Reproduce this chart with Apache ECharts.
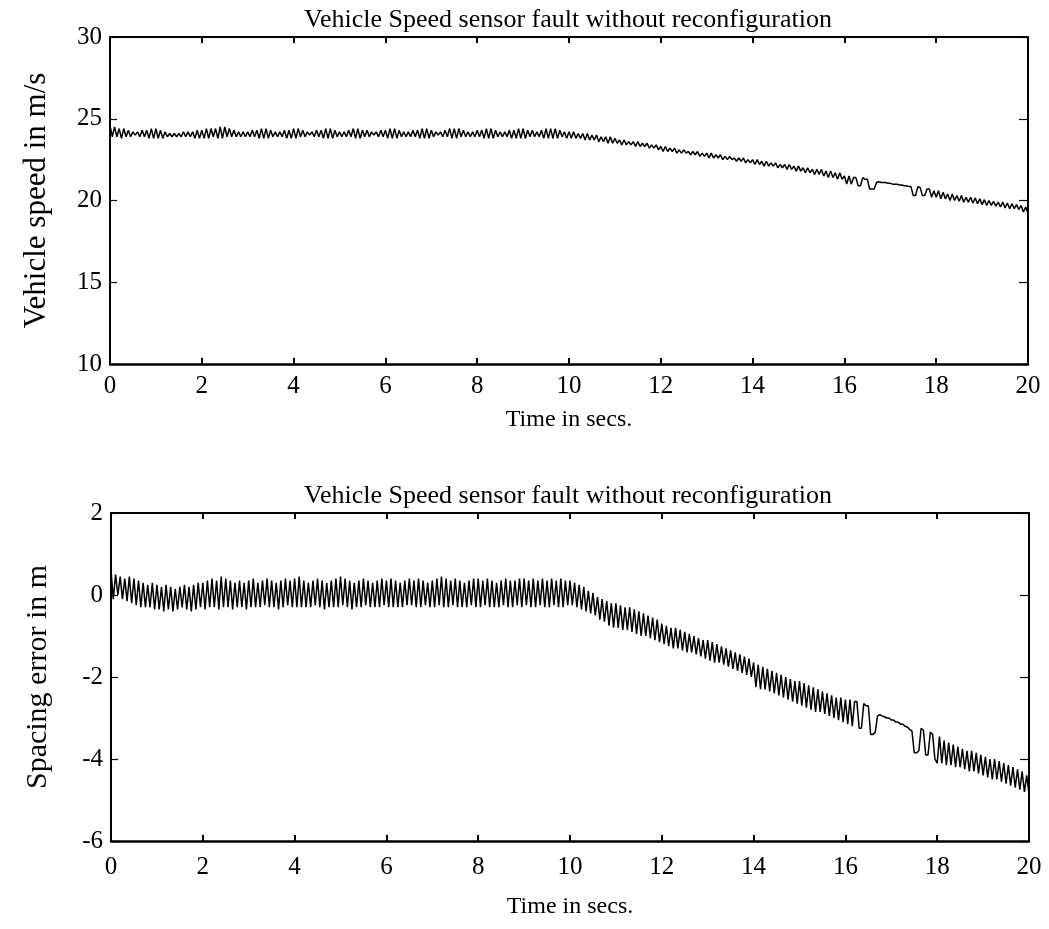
<!DOCTYPE html>
<html>
<head>
<meta charset="utf-8">
<script src="https://cdn.jsdelivr.net/npm/echarts@6/dist/echarts.min.js"></script>
<style>
html,body{margin:0;padding:0;background:#fff;}
#chart{width:1049px;height:929px;}
</style>
</head>
<body>
<div id="chart"></div>
<script>
// ---- data ----
const titleText = 'Vehicle Speed sensor fault without reconfiguration';
const xName = 'Time in secs.';
const yNameTop = 'Vehicle speed in m/s';
const yNameBottom = 'Spacing error in m';
const timeStep = 0.05; // seconds between samples, starting at t = 0
const xRange = [0, 20, 2];
const yRangeTop = [10, 30, 5];
const yRangeBottom = [-6, 2, 2];

// vehicle speed (m/s), one row per second
const speed = [
24.6,23.9,24.5,23.9,24.4,23.8,24.4,23.9,24.3,23.9,24.2,24.0,24.2,23.9,24.3,23.9,24.3,23.8,24.4,23.8,
24.4,23.8,24.3,23.8,24.2,23.9,24.1,23.9,24.1,23.9,24.1,23.9,24.2,23.9,24.2,23.9,24.2,23.8,24.3,23.8,
24.3,23.8,24.4,23.8,24.4,23.9,24.4,23.8,24.5,23.8,24.5,23.9,24.4,23.9,24.3,23.9,24.2,23.9,24.2,23.9,
24.2,23.9,24.3,23.9,24.3,23.8,24.4,23.8,24.4,23.8,24.3,23.9,24.2,23.9,24.2,23.9,24.3,23.8,24.3,23.8,
24.4,23.8,24.4,23.9,24.3,23.9,24.2,24.0,24.2,23.9,24.3,23.9,24.3,23.8,24.4,23.8,24.4,23.8,24.3,23.9,
24.2,23.9,24.2,23.9,24.3,23.9,24.4,23.8,24.4,23.8,24.3,23.9,24.3,23.9,24.2,24.0,24.2,23.9,24.3,23.9,
24.3,23.8,24.4,23.8,24.4,23.8,24.3,23.9,24.2,23.9,24.2,23.9,24.3,23.9,24.3,23.8,24.4,23.8,24.4,23.8,
24.3,23.9,24.2,24.0,24.2,23.9,24.3,23.9,24.4,23.8,24.4,23.8,24.4,23.9,24.3,23.9,24.2,23.9,24.2,23.9,
24.3,23.9,24.3,23.8,24.4,23.8,24.4,23.8,24.3,23.9,24.2,23.9,24.2,23.9,24.3,23.8,24.3,23.8,24.4,23.8,
24.4,23.8,24.3,23.9,24.3,23.9,24.2,23.9,24.3,23.8,24.4,23.8,24.4,23.8,24.4,23.8,24.3,23.9,24.2,23.8,
24.2,23.8,24.2,23.8,24.1,23.8,24.1,23.7,24.1,23.7,24.0,23.7,24.0,23.6,23.9,23.6,23.9,23.5,23.9,23.5,
23.8,23.5,23.7,23.4,23.7,23.4,23.6,23.4,23.6,23.3,23.6,23.3,23.5,23.3,23.5,23.2,23.4,23.2,23.4,23.1,
23.3,23.0,23.3,23.0,23.2,23.0,23.2,22.9,23.1,22.9,23.1,22.9,23.0,22.8,23.0,22.8,23.0,22.7,22.9,22.7,
22.9,22.6,22.9,22.6,22.8,22.6,22.8,22.5,22.7,22.5,22.7,22.5,22.6,22.4,22.6,22.4,22.6,22.3,22.5,22.3,
22.5,22.2,22.5,22.2,22.4,22.1,22.4,22.1,22.3,22.1,22.3,22.0,22.2,22.0,22.2,21.9,22.2,21.9,22.1,21.8,
22.1,21.8,22.0,21.7,22.0,21.7,21.9,21.6,21.9,21.6,21.9,21.5,21.8,21.4,21.8,21.4,21.7,21.3,21.7,21.3,
21.5,21.0,21.5,21.0,21.4,21.4,20.9,20.9,21.4,21.3,21.3,20.7,20.7,20.7,21.1,21.15,21.1,21.1,21.1,21.05,
21.05,21.0,21.0,21.0,20.95,20.95,20.9,20.9,20.85,20.85,20.3,20.3,20.85,20.8,20.3,20.3,20.7,20.7,20.2,20.6,
20.2,20.6,20.1,20.5,20.1,20.4,20.0,20.4,20.0,20.3,19.95,20.3,19.9,20.2,19.9,20.2,19.85,20.15,19.8,20.1,
19.75,20.05,19.7,20.0,19.7,19.95,19.65,19.9,19.6,19.9,19.55,19.85,19.5,19.8,19.5,19.75,19.45,19.7,19.3,19.6,
19.2
];

// spacing error (m), one row per second
const spacing = [
0.6,-0.1,0.5,0.0,0.45,-0.1,0.4,-0.15,0.45,-0.2,0.4,-0.25,0.35,-0.3,0.3,-0.3,0.25,-0.3,0.3,-0.35,
0.25,-0.35,0.2,-0.4,0.25,-0.35,0.2,-0.4,0.15,-0.35,0.2,-0.3,0.25,-0.35,0.2,-0.4,0.25,-0.35,0.3,-0.3,
0.3,-0.35,0.35,-0.3,0.4,-0.3,0.35,-0.35,0.45,-0.3,0.4,-0.3,0.35,-0.35,0.3,-0.3,0.35,-0.3,0.3,-0.35,
0.35,-0.3,0.4,-0.3,0.3,-0.3,0.35,-0.25,0.4,-0.3,0.35,-0.3,0.3,-0.35,0.35,-0.3,0.4,-0.25,0.35,-0.3,
0.4,-0.3,0.45,-0.3,0.35,-0.3,0.3,-0.3,0.35,-0.25,0.4,-0.3,0.35,-0.35,0.3,-0.3,0.35,-0.3,0.4,-0.3,
0.45,-0.25,0.4,-0.3,0.35,-0.35,0.3,-0.3,0.35,-0.3,0.4,-0.25,0.35,-0.3,0.3,-0.3,0.35,-0.3,0.4,-0.25,
0.35,-0.3,0.4,-0.3,0.35,-0.3,0.3,-0.3,0.35,-0.25,0.4,-0.25,0.35,-0.3,0.4,-0.3,0.35,-0.25,0.3,-0.3,
0.35,-0.3,0.4,-0.25,0.45,-0.3,0.4,-0.3,0.35,-0.25,0.4,-0.3,0.35,-0.3,0.3,-0.3,0.35,-0.25,0.4,-0.3,
0.4,-0.3,0.35,-0.25,0.4,-0.3,0.35,-0.3,0.3,-0.3,0.35,-0.25,0.4,-0.3,0.35,-0.3,0.35,-0.25,0.4,-0.3,
0.4,-0.25,0.35,-0.3,0.4,-0.3,0.35,-0.25,0.4,-0.3,0.35,-0.3,0.4,-0.25,0.35,-0.3,0.4,-0.3,0.35,-0.25,
0.35,-0.25,0.3,-0.3,0.25,-0.35,0.2,-0.4,0.1,-0.45,0.05,-0.5,-0.05,-0.6,-0.1,-0.65,-0.15,-0.75,-0.2,-0.8,
-0.2,-0.8,-0.25,-0.85,-0.3,-0.85,-0.3,-0.9,-0.35,-0.95,-0.4,-1.0,-0.45,-1.0,-0.5,-1.05,-0.55,-1.1,-0.6,-1.15,
-0.7,-1.2,-0.75,-1.25,-0.8,-1.3,-0.8,-1.3,-0.85,-1.35,-0.9,-1.4,-0.95,-1.4,-1.0,-1.45,-1.05,-1.5,-1.1,-1.55,
-1.1,-1.6,-1.15,-1.65,-1.2,-1.65,-1.25,-1.7,-1.3,-1.75,-1.35,-1.8,-1.4,-1.85,-1.45,-1.9,-1.5,-1.95,-1.55,-2.0,
-1.65,-2.25,-1.7,-2.3,-1.75,-2.3,-1.8,-2.35,-1.85,-2.4,-1.9,-2.45,-1.95,-2.5,-2.0,-2.55,-2.05,-2.6,-2.1,-2.65,
-2.1,-2.7,-2.15,-2.75,-2.2,-2.8,-2.25,-2.85,-2.3,-2.85,-2.35,-2.9,-2.4,-2.95,-2.45,-3.0,-2.5,-3.05,-2.5,-3.1,
-2.55,-3.15,-2.55,-3.2,-2.6,-2.6,-3.25,-3.25,-2.65,-2.7,-2.7,-3.4,-3.4,-3.35,-2.95,-2.92,-2.95,-2.97,-3.0,-3.0,
-3.05,-3.05,-3.1,-3.1,-3.15,-3.15,-3.2,-3.22,-3.28,-3.32,-3.85,-3.85,-3.8,-3.25,-3.3,-3.9,-3.9,-3.35,-3.4,-4.0,
-4.1,-3.45,-4.1,-3.55,-4.15,-3.6,-4.15,-3.65,-4.2,-3.7,-4.2,-3.75,-4.25,-3.8,-4.3,-3.8,-4.3,-3.85,-4.35,-3.9,
-4.4,-3.95,-4.45,-4.0,-4.5,-4.0,-4.5,-4.05,-4.55,-4.1,-4.6,-4.15,-4.65,-4.2,-4.7,-4.25,-4.75,-4.3,-4.8,-4.4,
-4.85
];

// ---- chart ----
const serif = '"Liberation Serif", "Times New Roman", serif';
function pairs(arr){ return arr.map((v,i)=>[+(i*timeStep).toFixed(2), v]); }

const chart = echarts.init(document.getElementById('chart'), null, {renderer:'canvas'});

function xAxes(gi, nameGap, labelMargin){
  const base = {gridIndex:gi, type:'value', min:xRange[0], max:xRange[1], interval:xRange[2], splitLine:{show:false}};
  return [
    Object.assign({}, base, {
      position:'bottom',
      axisLine:{onZero:false, lineStyle:{color:'#000', width:2.5}},
      axisTick:{inside:true, length:6, lineStyle:{color:'#000', width:2}},
      axisLabel:{fontFamily:serif, fontSize:25, color:'#000', margin:labelMargin},
      name:xName, nameLocation:'middle', nameGap:nameGap,
      nameTextStyle:{fontFamily:serif, fontSize:24, color:'#000'}
    }),
    Object.assign({}, base, {
      position:'top',
      axisLine:{onZero:false, lineStyle:{color:'#000', width:1.8}},
      axisTick:{inside:true, length:6, lineStyle:{color:'#000', width:2}},
      axisLabel:{show:false}
    })
  ];
}
function yAxes(gi, r, name, nameSize){
  const base = {gridIndex:gi, type:'value', min:r[0], max:r[1], interval:r[2], splitLine:{show:false}};
  return [
    Object.assign({}, base, {
      position:'left',
      axisLine:{onZero:false, lineStyle:{color:'#000', width:2}},
      axisTick:{inside:true, length:7, lineStyle:{color:'#000', width:1.2}},
      axisLabel:{fontFamily:serif, fontSize:25, color:'#000', margin:8},
      name:name, nameLocation:'middle', nameGap:58, nameRotate:90,
      nameTextStyle:{fontFamily:serif, fontSize:nameSize, color:'#000'}
    }),
    Object.assign({}, base, {
      position:'right',
      axisLine:{onZero:false, lineStyle:{color:'#000', width:2}},
      axisTick:{inside:true, length:9, lineStyle:{color:'#000', width:1.2}},
      axisLabel:{show:false}
    })
  ];
}

const option = {
  animation:false,
  backgroundColor:'#fff',
  grid:[
    {left:110, right:21, top:37, height:327},
    {left:111, right:20, top:513, height:328}
  ],
  xAxis:[].concat(xAxes(0, 44, 10), xAxes(1, 54, 14)),
  yAxis:[].concat(yAxes(0, yRangeTop, yNameTop, 31), yAxes(1, yRangeBottom, yNameBottom, 30)),
  series:[
    {type:'line', xAxisIndex:0, yAxisIndex:0, data:pairs(speed), showSymbol:false, symbol:'none',
     lineStyle:{color:'#000', width:1.5}},
    {type:'line', xAxisIndex:2, yAxisIndex:2, data:pairs(spacing), showSymbol:false, symbol:'none',
     lineStyle:{color:'#000', width:1.5}}
  ],
  graphic:[
    {type:'text', x:568, y:33, style:{text:titleText, font:'26px ' + serif, fill:'#000', textAlign:'center', textVerticalAlign:'bottom'}},
    {type:'text', x:568, y:509, style:{text:titleText, font:'26px ' + serif, fill:'#000', textAlign:'center', textVerticalAlign:'bottom'}}
  ]
};
chart.setOption(option);
</script>
</body>
</html>
